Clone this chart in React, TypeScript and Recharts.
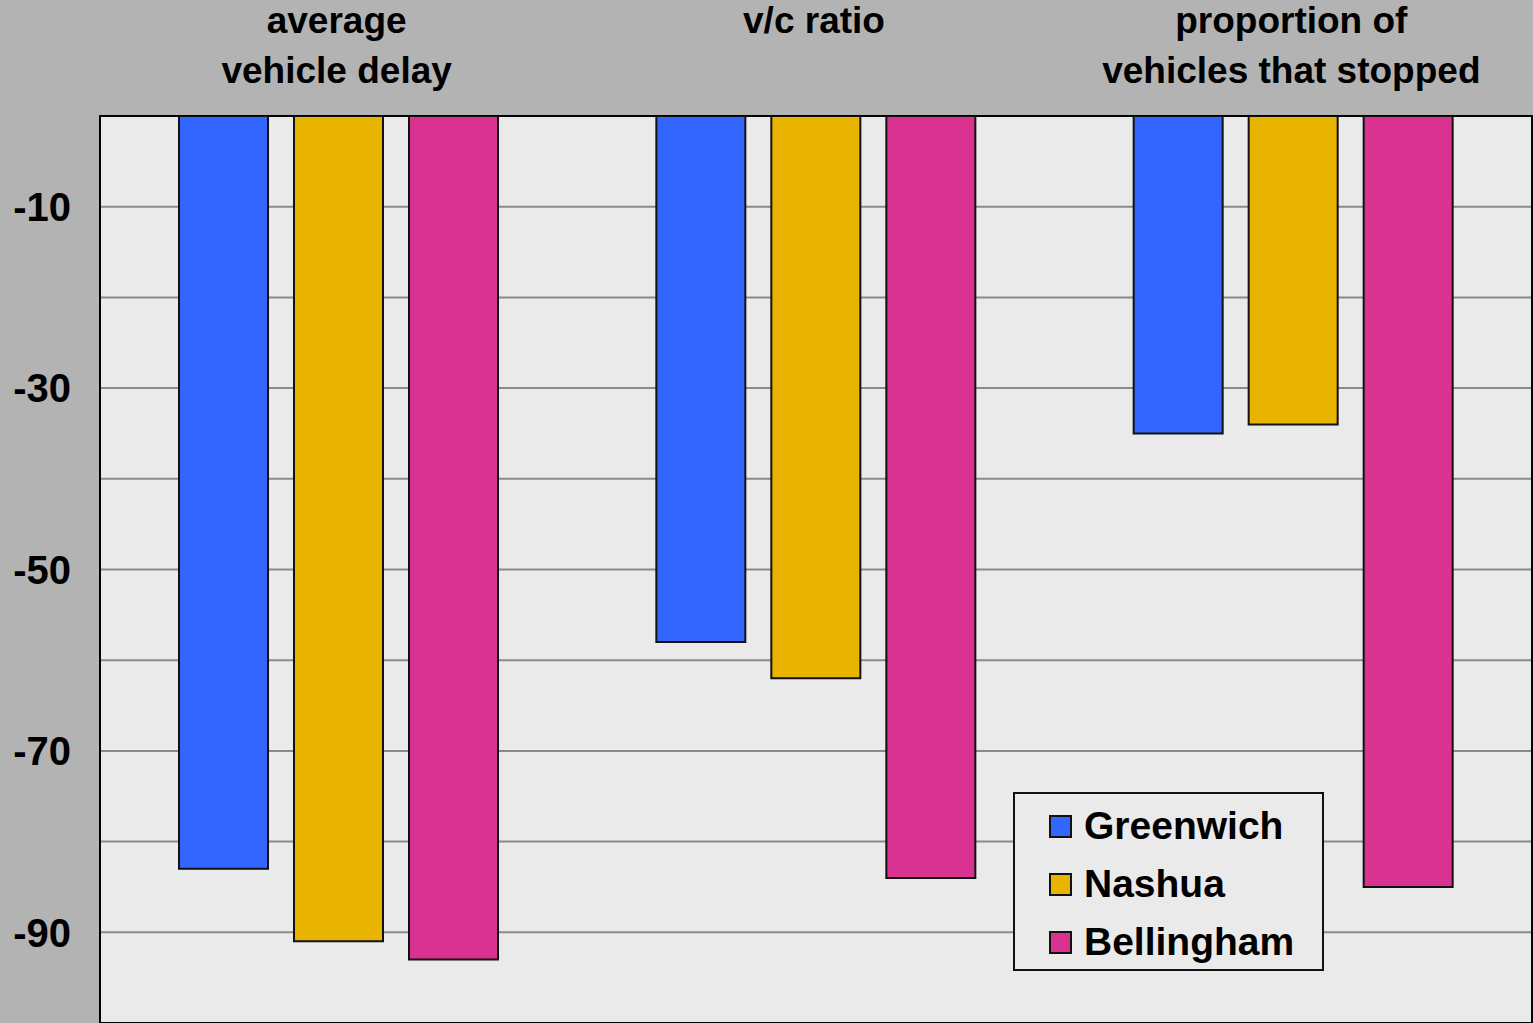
import React from "react";
import { BarChart, Bar, XAxis, YAxis, CartesianGrid, Legend, ReferenceArea } from "recharts";

const categories = ["average\nvehicle delay", "v/c ratio", "proportion of\nvehicles that stopped"];
const greenwich = [-83, -58, -35];
const nashua = [-91, -62, -34];
const bellingham = [-93, -84, -85];
const yTicks = [-10, -30, -50, -70, -90];
const gridValues = [-10, -20, -30, -40, -50, -60, -70, -80, -90];

const series = [
  { key: "Greenwich", color: "#3366ff" },
  { key: "Nashua", color: "#e8b400" },
  { key: "Bellingham", color: "#d93291" },
];

const data = categories.map((category, i) => ({
  category,
  Greenwich: greenwich[i],
  Nashua: nashua[i],
  Bellingham: bellingham[i],
}));

const FONT = '"Liberation Sans", Arial, sans-serif';

function CategoryTick(props: any) {
  const { x, y, payload } = props;
  const lines = String(payload.value).split("\n");
  return (
    <text
      x={x}
      y={y}
      textAnchor="middle"
      fontFamily={FONT}
      fontWeight="bold"
      fontSize={37}
      fill="#000"
    >
      {lines.map((line, i) => (
        <tspan key={i} x={x - 2} y={y - 83 + i * 50}>
          {line}
        </tspan>
      ))}
    </text>
  );
}

function LegendBox() {
  return (
    <div
      style={{
        boxSizing: "border-box",
        width: 311,
        height: 179,
        border: "2px solid #111",
        background: "#eaeaea",
        paddingTop: 3,
        paddingLeft: 34,
        fontFamily: FONT,
        fontWeight: "bold",
        fontSize: 39,
        color: "#000",
      }}
    >
      {series.map((s) => (
        <div key={s.key} style={{ display: "flex", alignItems: "center", height: 58 }}>
          <span
            style={{
              boxSizing: "border-box",
              width: 23,
              height: 23,
              border: "2px solid #111",
              background: s.color,
              display: "inline-block",
            }}
          />
          <span style={{ marginLeft: 12, lineHeight: "58px" }}>{s.key}</span>
        </div>
      ))}
    </div>
  );
}

export default function App() {
  return (
    <div
      style={{
        position: "absolute",
        left: 0,
        top: 0,
        width: 1533,
        height: 1023,
        background: "#b3b3b3",
        overflow: "hidden",
      }}
    >
      <BarChart
        width={1533}
        height={1023}
        data={data}
        margin={{ top: 0, right: 1, bottom: 0, left: 0 }}
        barSize={89}
        barGap={26}
      >
        <CartesianGrid
          vertical={false}
          horizontalValues={gridValues}
          stroke="#8a8a8a"
          strokeWidth={2}
          fill="#eaeaea"
          fillOpacity={1}
        />
        <XAxis
          dataKey="category"
          orientation="top"
          height={116}
          axisLine={false}
          tickLine={false}
          tickSize={0}
          tickMargin={0}
          interval={0}
          tick={<CategoryTick />}
        />
        <YAxis
          type="number"
          domain={[-100, 0]}
          ticks={yTicks}
          width={100}
          axisLine={false}
          tickLine={false}
          tickSize={0}
          tickMargin={29}
          allowDataOverflow
          tick={{ fontFamily: FONT, fontWeight: "bold", fontSize: 40, fill: "#000" }}
        />
        {series.map((s) => (
          <Bar
            key={s.key}
            dataKey={s.key}
            fill={s.color}
            stroke="#111"
            strokeWidth={2}
            isAnimationActive={false}
          />
        ))}
        <ReferenceArea y1={-100} y2={0} fill="none" stroke="#000" strokeWidth={2} />
        <Legend
          layout="horizontal"
          verticalAlign="middle"
          align="center"
          wrapperStyle={{ left: 1013, top: 792, width: 311, height: 179 }}
          content={() => <LegendBox />}
        />
      </BarChart>
    </div>
  );
}
